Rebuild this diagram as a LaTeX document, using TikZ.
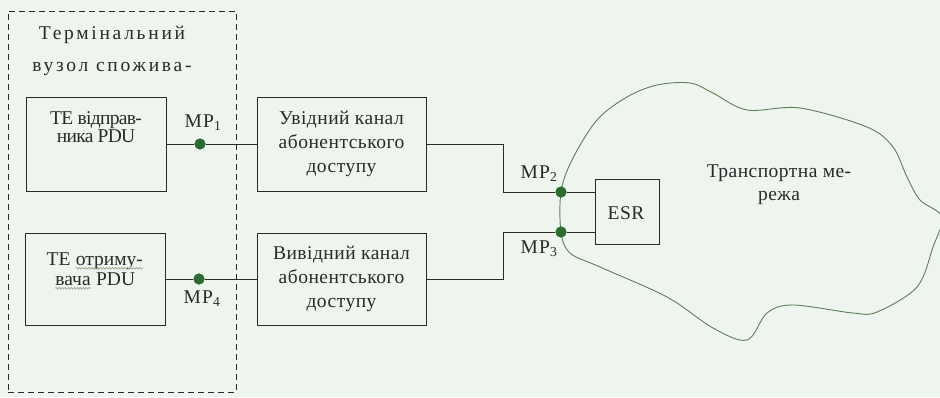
\documentclass[tikz,border=0pt]{standalone}
\usepackage{fontspec}
\setmainfont{Liberation Serif}
\usetikzlibrary{decorations.pathmorphing}
\definecolor{bg}{HTML}{EEF4EE}
\definecolor{ink}{HTML}{2A2A2A}
\definecolor{dotc}{HTML}{2E6B34}
\definecolor{cloudc}{HTML}{5E7F5A}
\definecolor{squig}{HTML}{9AA890}
\newcommand{\spellwave}[1]{\tikz[baseline=(sw.base)]{\node[inner sep=0pt, text=ink] (sw) {#1};
  \draw[squig, line width=0.7pt, decorate, decoration={snake, amplitude=0.9pt, segment length=3pt}] ([yshift=-3pt]sw.base west) -- ([yshift=-3pt]sw.base east);}}
\newcommand{\fs}[2]{\fontsize{19.5}{#1}\selectfont\addfontfeature{LetterSpace=#2}}
\tikzset{
  blk/.style={draw=ink, line width=1pt, inner sep=0pt},
  txt/.style={text=ink, align=center, inner sep=0pt, font=\fs{20}{0}},
  wire/.style={draw=ink, line width=1pt},
  mpdot/.style={circle, fill=dotc, minimum size=11pt, inner sep=0pt},
  mplbl/.style={text=ink, inner sep=0pt, font=\fs{20}{7}},
}
\begin{document}
\begin{tikzpicture}[x=1pt,y=-1pt]
\useasboundingbox[fill=bg] (0,0) rectangle (940,397);

% cloud
\draw[cloudc, line width=0.9pt] plot[smooth cycle, tension=0.55] coordinates {
 (561,192) (572,160) (597,120) (627,97) (657,85) (690,83) (713,93) (747,110)
 (800,108) (867,127) (893,147) (907,177) (920,200) (942,217) (933,247)
 (917,287) (877,312) (853,313) (793,305) (767,313) (747,340) (713,328)
 (667,297) (600,267) (570,253) (561,232)};

% terminal dashed box
\node[draw=ink, dash pattern=on 6pt off 4pt, line width=0.9pt, minimum width=228pt, minimum height=381pt, inner sep=0pt] (term) at (122,201.5) {};
\node[txt, font=\fs{32}{14}] (termlbl) at (112,51) {Термінальний\\вузол спожива-};

% blocks
\node[blk, minimum width=140pt, minimum height=94pt] (te1) at (96,144) {};
\node[txt, font=\fs{18}{-3.5}] (te1t) at (96,127) {ТЕ відправ-\\ника PDU};
\node[blk, minimum width=140pt, minimum height=92pt] (te2) at (95,279) {};
\node[txt, font=\fs{20}{0}] (te2t) at (95,271) {ТЕ \spellwave{отриму-}\\\spellwave{вача} PDU};

\node[blk, minimum width=169pt, minimum height=94pt] (in) at (341.5,144) {};
\node[txt, font=\fs{24}{2.5}] (intxt) at (341.5,144) {Увідний канал\\абонентського\\доступу};
\node[blk, minimum width=169pt, minimum height=92pt] (out) at (341.5,279) {};
\node[txt, font=\fs{24}{2.5}] (outtxt) at (341.5,279) {Вивідний канал\\абонентського\\доступу};

\node[blk, minimum width=64pt, minimum height=65pt] (esr) at (627,211.5) {};
\node[txt, font=\fs{20}{2}] (esrt) at (626,213) {ESR};

\node[txt, font=\fs{23}{2.4}] (net) at (779,185) {Транспортна ме-\\режа};

% measurement points
\node[mpdot] (mp1) at (200,144) {};
\node[mpdot] (mp4) at (199,279) {};
\node[mpdot] (mp2) at (561,192) {};
\node[mpdot] (mp3) at (561,232) {};
\node[mplbl] (mp1l) at (203,123) {MP\textsubscript{1}};
\node[mplbl] (mp4l) at (202,299) {MP\textsubscript{4}};
\node[mplbl] (mp2l) at (539,174) {MP\textsubscript{2}};
\node[mplbl] (mp3l) at (539,249) {MP\textsubscript{3}};

% wires
\coordinate (c1) at (503,144);
\coordinate (c2) at (503,192);
\coordinate (c3) at (503,279);
\coordinate (c4) at (503,232);
\draw[wire] (te1.east) -- (mp1) -- (in.west);
\draw[wire] (te2.east) -- (mp4) -- (out.west);
\draw[wire] (in.east) -- (c1) -- (c2) -- (mp2) -- (esr.west |- mp2);
\draw[wire] (out.east) -- (c3) -- (c4) -- (mp3) -- (esr.west |- mp3);
\node[mpdot] at (mp1) {};
\node[mpdot] at (mp4) {};
\node[mpdot] at (mp2) {};
\node[mpdot] at (mp3) {};
\end{tikzpicture}
\end{document}
